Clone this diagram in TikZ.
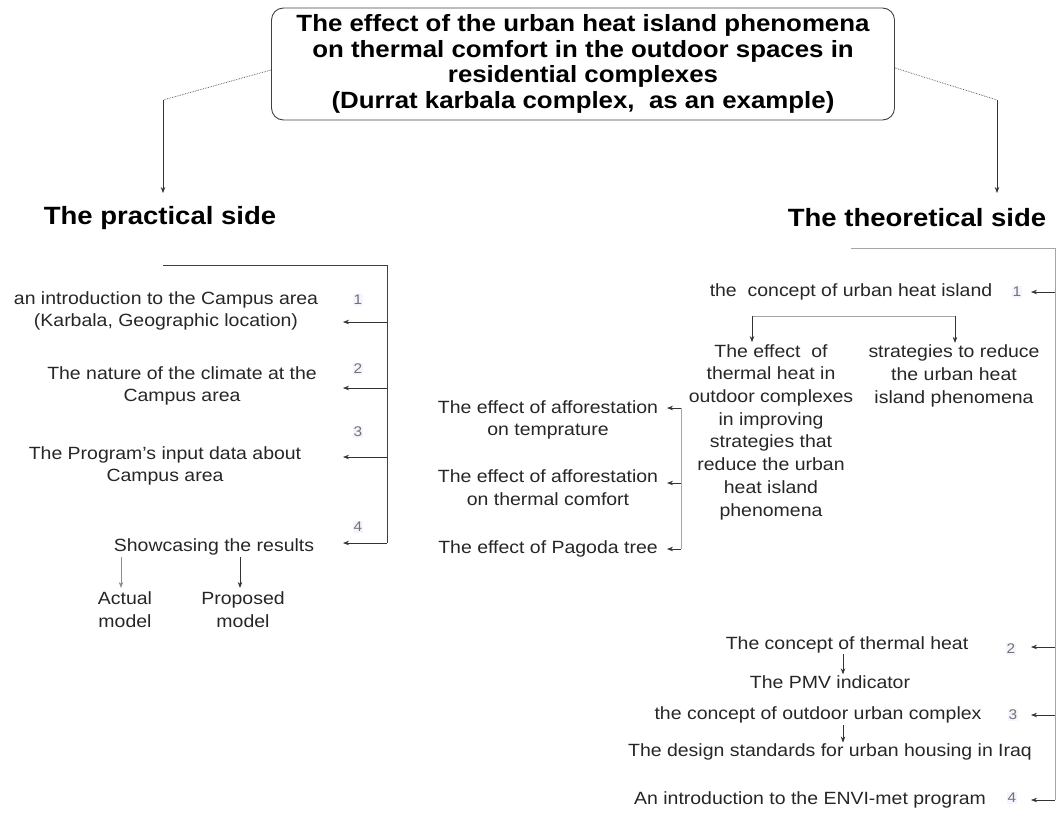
\documentclass[tikz,border=0pt]{standalone}
\usepackage{fontspec}
\setmainfont[FakeStretch=1.1]{Liberation Sans}
\usetikzlibrary{arrows.meta}
\usetikzlibrary{calc}

\begin{document}
\begin{tikzpicture}[x=1pt, y=-1pt,
        txt/.style = {align=center, inner sep=0pt, text=black!85, font=\fontsize{17.7}{22.7}\selectfont},
        head/.style = {inner sep=0pt, font=\fontsize{25}{30}\selectfont\bfseries},
        num/.style = {inner sep=1pt, text=black!55, fill=blue!4, font=\fontsize{14}{16}\selectfont},
        goalbox/.style = {draw=black!75, line width=0.9pt, rounded corners=12pt, align=center,
            minimum width=623pt, minimum height=112pt, font=\fontsize{23.5}{25.7}\selectfont\bfseries},
        link/.style = {black!75, line width=0.7pt},
        pale/.style = {black!35, line width=0.6pt},
        dotlink/.style = {black!70, line width=0.7pt, densely dotted},
        arr/.style = {black!80, line width=0.7pt, -{Stealth[length=6pt, width=4.5pt]}}]
    \useasboundingbox (0,0) rectangle (1057,814);

    \node[goalbox] (goal) at (583,64) {The effect of the urban heat island phenomena\\on thermal comfort in the outdoor spaces in\\residential complexes\\(Durrat karbala complex,\ \ as an example)};
    \node[head] (prac) at (160,218) {The practical side};
    \node[head] (theo) at (917,218) {The theoretical side};

    \coordinate (pk) at (163,100);
    \coordinate (ptip) at (163,193);
    \coordinate (tk) at (997,100);
    \coordinate (ttip) at (997,193);
    \draw[dotlink] ($(goal.west)+(0,6)$) -- (pk);
    \draw[arr] (pk) -- (ptip);
    \draw[dotlink] ($(goal.east)+(0,4)$) -- (tk);
    \draw[arr] (tk) -- (ttip);

    \node[txt] (p1) at (166,311) {an introduction to the Campus area\\(Karbala, Geographic location)};
    \node[txt] (p2) at (182,386) {The nature of the climate at the\\Campus area};
    \node[txt] (p3) at (165,466) {The Program's input data about\\Campus area};
    \node[txt] (p4) at (214,547) {Showcasing the results};
    \node[txt] (p4a) at (125,610) {Actual\\model};
    \node[txt] (p4b) at (243,610) {Proposed\\model};
    \node[num] at (358,300) {1};
    \node[num] at (358,369) {2};
    \node[num] at (358,432) {3};
    \node[num] at (358,527) {4};

    \coordinate (ltop) at (163,265);
    \coordinate (lcor) at (387,265);
    \coordinate (lbot) at (387,543);
    \draw[link] (ltop) -- (lcor) -- (lbot);
    \foreach \n/\y in {1/322, 2/388, 3/457, 4/543} {
        \coordinate (pa\n) at (343,\y);
        \draw[arr] (lbot |- pa\n) -- (pa\n);
    }
    \draw[arr, black!45] ($(p4.south -| p4a)+(-4,2)$) -- ($(p4a.north)+(-4,-4)$);
    \draw[arr] ($(p4.south -| p4b)+(-3,2)$) -- ($(p4b.north)+(-3,-4)$);

    \coordinate (rtop) at (1055,248);
    \coordinate (rbot) at (1055,800);
    \coordinate (rule) at (851,248);
    \draw[pale] (rule) -- (rtop) -- (rbot);

    \node[txt] (t1) at (851,292) {the\ \ concept of urban heat island};
    \node[txt] (t1a) at (771,432) {The effect\ \ of\\thermal heat in\\outdoor complexes\\in improving\\strategies that\\reduce the urban\\heat island\\phenomena};
    \node[txt] (t1b) at (954,376) {strategies to reduce\\the urban heat\\island phenomena};
    \node[txt] (a1) at (548,420) {The effect of afforestation\\on temprature};
    \node[txt] (a2) at (548,488) {The effect of afforestation\\on thermal comfort};
    \node[txt] (a3) at (548,549) {The effect of Pagoda tree};
    \node[txt] (t2) at (847,645) {The concept of thermal heat};
    \node[txt] (t2a) at (830,682) {The PMV indicator};
    \node[txt] (t3) at (818,715) {the concept of outdoor urban complex};
    \node[txt] (t3a) at (830,752) {The design standards for urban housing in Iraq};
    \node[txt] (t4) at (810,800) {An introduction to the ENVI-met program};
    \node[num] at (1017,292) {1};
    \node[num] at (1011,649) {2};
    \node[num] at (1013,715) {3};
    \node[num] at (1012,798) {4};

    \foreach \n/\y in {1/292, 2/647, 3/715, 4/800} {
        \coordinate (ta\n) at (1031,\y);
        \draw[arr] (rbot |- ta\n) -- (ta\n);
    }

    \coordinate (bl) at (752,316);
    \coordinate (br) at (955,316);
    \draw[pale] (bl) -- (br);
    \draw[arr] (bl) -- ($(bl |- t1a.north)+(0,-2)$);
    \draw[arr] (br) -- ($(br |- t1b.north)+(0,-2)$);

    \coordinate (av) at (681,408);
    \coordinate (avb) at (681,549);
    \draw[pale] (av) -- (avb);
    \foreach \n/\y in {1/408, 2/483, 3/549} {
        \coordinate (aa\n) at (667,\y);
        \draw[arr] (av |- aa\n) -- (aa\n);
    }

    \coordinate (pmv) at (843,0);
    \draw[arr] ($(t2.south -| pmv)+(0,1)$) -- ($(t2a.north -| pmv)+(0,-1)$);
    \coordinate (dsn) at (843,0);
    \draw[arr] ($(t3.south -| dsn)+(0,2)$) -- ($(t3a.north -| dsn)+(0,-1)$);
\end{tikzpicture}
\end{document}
